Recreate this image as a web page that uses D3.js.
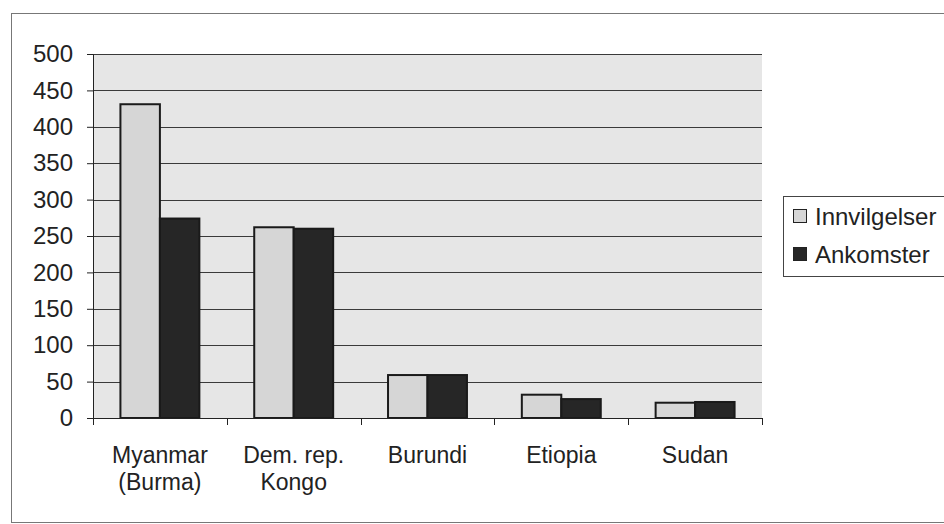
<!DOCTYPE html>
<html>
<head>
<meta charset="utf-8">
<script src="https://cdn.jsdelivr.net/npm/d3@7"></script>
<style>
  body { margin: 0; background: #fff; }
  svg { display: block; font-family: "Liberation Sans", Arial, sans-serif; }
</style>
</head>
<body>
<div class="chart"></div>
<script>
const categories = [`Myanmar|(Burma)`, `Dem. rep.|Kongo`, `Burundi`, `Etiopia`, `Sudan`];
const innvilgelser = [431, 262, 59, 32, 21];
const ankomster = [274, 260, 59, 26, 22];
const seriesNames = [`Innvilgelser`, `Ankomster`];
const yTicks = [0, 50, 100, 150, 200, 250, 300, 350, 400, 450, 500];

const W = 944, H = 524;
const plot = { left: 93, right: 762, top: 54, bottom: 418 };

const svg = d3.select(`.chart`).append(`svg`)
  .attr(`width`, W)
  .attr(`height`, H);

// outer chart border
svg.append(`rect`)
  .attr(`x`, 11.5).attr(`y`, 13.5)
  .attr(`width`, W).attr(`height`, 509)
  .attr(`fill`, `#fff`)
  .attr(`stroke`, `#777`);

const x = d3.scaleBand()
  .domain(categories)
  .range([plot.left, plot.right])
  .paddingInner(0.41)
  .paddingOuter(0.205);
const xs = d3.scaleBand()
  .domain(seriesNames)
  .range([0, x.bandwidth()]);
const y = d3.scaleLinear()
  .domain([0, 500])
  .range([plot.bottom, plot.top]);

// plot area
svg.append(`rect`)
  .attr(`x`, plot.left).attr(`y`, plot.top)
  .attr(`width`, plot.right - plot.left)
  .attr(`height`, plot.bottom - plot.top)
  .attr(`fill`, `#e6e6e6`);

// gridlines
svg.append(`g`)
  .selectAll(`line`)
  .data(yTicks.slice(1))
  .enter().append(`line`)
    .attr(`x1`, plot.left).attr(`x2`, plot.right)
    .attr(`y1`, d => Math.round(y(d)) + 0.5)
    .attr(`y2`, d => Math.round(y(d)) + 0.5)
    .attr(`stroke`, `#3a3a3a`);

// bars
const data = categories.map((c, i) => ({ cat: c, values: [innvilgelser[i], ankomster[i]] }));
const fills = [`#d6d6d6`, `#262626`];
svg.append(`g`)
  .selectAll(`g`)
  .data(data)
  .enter().append(`g`)
    .attr(`transform`, d => `translate(${x(d.cat)},0)`)
  .selectAll(`rect`)
  .data(d => d.values.map((v, j) => ({ name: seriesNames[j], v, j })))
  .enter().append(`rect`)
    .attr(`x`, d => xs(d.name))
    .attr(`width`, xs.bandwidth())
    .attr(`y`, d => y(d.v))
    .attr(`height`, d => plot.bottom - y(d.v))
    .attr(`fill`, d => fills[d.j])
    .attr(`stroke`, `#1a1a1a`)
    .attr(`stroke-width`, 2);

// y axis
const yAxis = svg.append(`g`)
  .attr(`transform`, `translate(${plot.left},0)`)
  .call(d3.axisLeft(y).tickValues(yTicks).tickSize(6).tickPadding(14));
yAxis.selectAll(`text`).attr(`font-size`, 24).attr(`fill`, `#222`).attr(`font-family`, `"Liberation Sans", Arial, sans-serif`);
yAxis.selectAll(`line, path`).attr(`stroke`, `#222`);

// x axis with ticks between categories
const xAxis = svg.append(`g`);
xAxis.append(`line`)
  .attr(`x1`, plot.left).attr(`x2`, plot.right)
  .attr(`y1`, plot.bottom + 0.5).attr(`y2`, plot.bottom + 0.5)
  .attr(`stroke`, `#222`);
xAxis.selectAll(`.tick`)
  .data(d3.range(categories.length + 1))
  .enter().append(`line`)
    .attr(`x1`, i => Math.round(plot.left + i * (plot.right - plot.left) / categories.length) + 0.5)
    .attr(`x2`, i => Math.round(plot.left + i * (plot.right - plot.left) / categories.length) + 0.5)
    .attr(`y1`, plot.bottom).attr(`y2`, plot.bottom + 7)
    .attr(`stroke`, `#222`);
xAxis.selectAll(`text`)
  .data(categories)
  .enter().append(`text`)
    .attr(`x`, d => x(d) + x.bandwidth() / 2)
    .attr(`y`, 463)
    .attr(`text-anchor`, `middle`)
    .attr(`font-size`, 23)
    .attr(`fill`, `#222`)
    .selectAll(`tspan`)
    .data(d => d.split(`|`))
    .enter().append(`tspan`)
      .attr(`x`, function() { return d3.select(this.parentNode).attr(`x`); })
      .attr(`dy`, (d, i) => i === 0 ? 0 : 27)
      .text(d => d);

// legend
const legend = svg.append(`g`);
legend.append(`rect`)
  .attr(`x`, 783.5).attr(`y`, 196.5)
  .attr(`width`, 200).attr(`height`, 80)
  .attr(`fill`, `#fff`)
  .attr(`stroke`, `#444`);
const items = legend.selectAll(`g`)
  .data(seriesNames)
  .enter().append(`g`)
    .attr(`transform`, (d, i) => `translate(793,${216 + i * 38})`);
items.append(`rect`)
  .attr(`x`, 0.5).attr(`y`, -6.5)
  .attr(`width`, 13).attr(`height`, 13)
  .attr(`fill`, (d, i) => fills[i])
  .attr(`stroke`, `#222`);
items.append(`text`)
  .attr(`x`, 22).attr(`y`, 9)
  .attr(`font-size`, 24)
  .attr(`fill`, `#222`)
  .text(d => d);
</script>
</body>
</html>
